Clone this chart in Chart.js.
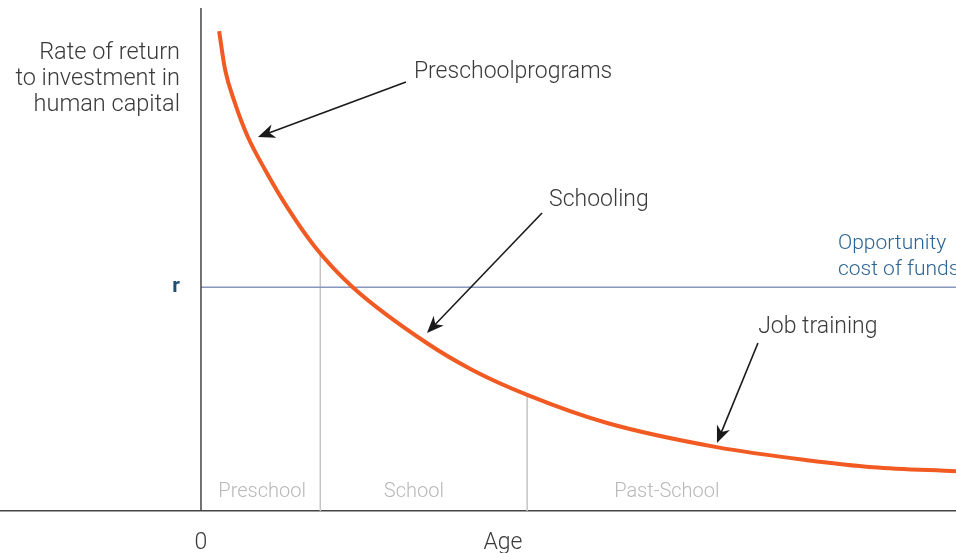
<!DOCTYPE html>
<html>
<head>
<meta charset="utf-8">
<script src="https://cdn.jsdelivr.net/npm/chart.js@4.4.1/dist/chart.umd.min.js"></script>
<style>
  body { margin: 0; background: #fff; }
  #wrap { width: 956px; height: 553px; }
</style>
</head>
<body>
<div id="wrap"><canvas id="myChart"></canvas></div>
<script>
// return curve (x = age units 0..100, y = rate 0..100)
var curveX = [2.4, 3.2, 4.5, 6.2, 8.5, 11.5, 15.1, 20.1, 29.9, 36.0, 43.2, 53.8, 68.3, 80.3, 89.0, 100];
var curveY = [95.4, 87.7, 81.1, 74.4, 67.8, 60.2, 52.5, 44.5, 33.4, 28.0, 23.1, 17.5, 12.7, 10.1, 8.7, 7.9];

var rValue = 44.5;             // opportunity cost of funds
var stageBounds = [15.8, 43.2]; // preschool | school | past-school
var stageTops = [51.3, 23.1];
var stageNames = ["Preschool", "School", "Past-School"];
var stageLabelX = [8.1, 28.2, 61.7];

var tickValues = [0, 40];
var tickLabels = ["0", "Age"];

var toPoints = function (xs, ys) {
  return xs.map(function (x, i) { return { x: x, y: ys[i] }; });
};

var FONT = "Roboto";
var TEXT = "#3a3a3a";

// arrows: [fromX, fromY, tipX, tipY], labels in data units
var arrows = [
  [27.15, 85.3, 7.55, 74.35],
  [45.17, 59.24, 29.93, 35.39],
  [73.77, 33.4, 68.34, 13.52]
];
var notes = [
  { text: "Preschoolprograms", x: 28.2, y: 87.7 },
  { text: "Schooling", x: 46.1, y: 62.2 },
  { text: "Job training", x: 73.8, y: 37.0 }
];

function drawArrow(ctx, x1, y1, x2, y2) {
  var a = Math.atan2(y2 - y1, x2 - x1);
  ctx.save();
  ctx.strokeStyle = "#1a1a1a";
  ctx.fillStyle = "#1a1a1a";
  ctx.lineWidth = 1.6;
  ctx.beginPath();
  ctx.moveTo(x1, y1);
  ctx.lineTo(x2 - 8 * Math.cos(a), y2 - 8 * Math.sin(a));
  ctx.stroke();
  ctx.translate(x2, y2);
  ctx.rotate(a);
  ctx.beginPath();
  ctx.moveTo(0, 0);
  ctx.lineTo(-17, -7);
  ctx.lineTo(-12, 0);
  ctx.lineTo(-17, 7);
  ctx.closePath();
  ctx.fill();
  ctx.restore();
}

var annotate = {
  id: "annotate",
  afterDatasetsDraw: function (chart) {
    var ctx = chart.ctx;
    var xs = chart.scales.x, ys = chart.scales.y;
    var px = function (v) { return xs.getPixelForValue(v); };
    var py = function (v) { return ys.getPixelForValue(v) + 2; };

    ctx.save();
    // y axis
    ctx.strokeStyle = "#444";
    ctx.lineWidth = 1.5;
    ctx.beginPath();
    ctx.moveTo(px(0), chart.chartArea.top);
    ctx.lineTo(px(0), chart.chartArea.bottom);
    ctx.stroke();

    ctx.textBaseline = "middle";
    // y axis title
    ctx.font = "300 23.5px " + FONT;
    ctx.fillStyle = TEXT;
    ctx.textAlign = "right";
    ["Rate of return", "to investment in", "human capital"].forEach(function (t, i) {
      ctx.fillText(t, px(0) - 21, py(91.65) + 1 + i * 26);
    });

    // r label
    ctx.font = "bold 21px " + FONT;
    ctx.fillStyle = "#1f4e79";
    ctx.textAlign = "center";
    ctx.fillText("r", px(0) - 25, py(rValue) - 2);

    // opportunity cost label
    ctx.font = "300 21px " + FONT;
    ctx.fillStyle = "#2b6494";
    ctx.textAlign = "left";
    ctx.fillText("Opportunity", px(84.37), py(rValue) - 45);
    ctx.fillText("cost of funds", px(84.37), py(rValue) - 19);

    // stage names
    ctx.font = "300 20px " + FONT;
    ctx.fillStyle = "#b8b8b8";
    ctx.textAlign = "center";
    stageNames.forEach(function (t, i) {
      ctx.fillText(t, px(stageLabelX[i]), py(4.2));
    });

    // notes + arrows
    ctx.font = "300 23px " + FONT;
    ctx.fillStyle = TEXT;
    ctx.textAlign = "left";
    notes.forEach(function (n) { ctx.fillText(n.text, px(n.x), py(n.y)); });
    arrows.forEach(function (a) {
      drawArrow(ctx, px(a[0]), py(a[1]) - 2, px(a[2]), py(a[3]) - 2);
    });
    ctx.restore();
  }
};

var datasets = [
  {
    data: toPoints(curveX, curveY),
    borderColor: "#f15a22",
    borderWidth: 4,
    pointRadius: 0,
    cubicInterpolationMode: "monotone",
    fill: false
  },
  {
    data: [{ x: 0, y: rValue }, { x: 100, y: rValue }],
    borderColor: "#8a96bd",
    borderWidth: 1.5,
    pointRadius: 0
  }
];
stageBounds.forEach(function (b, i) {
  datasets.push({
    data: [{ x: b, y: 0 }, { x: b, y: stageTops[i] }],
    borderColor: "#c4c4c4",
    borderWidth: 1.5,
    pointRadius: 0
  });
});

new Chart("myChart", {
  type: "line",
  data: { datasets: datasets },
  options: {
    responsive: true,
    maintainAspectRatio: false,
    animation: false,
    layout: { padding: { top: 8, left: 0, right: 0, bottom: 0 } },
    plugins: { legend: { display: false }, tooltip: { enabled: false } },
    scales: {
      x: {
        type: "linear",
        min: -26.62,
        max: 100,
        grid: { display: false },
        border: { display: true, color: "#444", width: 1.5 },
        afterBuildTicks: function (scale) {
          scale.ticks = tickValues.map(function (v) { return { value: v }; });
        },
        afterFit: function (scale) { scale.height = 42; },
        ticks: {
          padding: 10,
          color: TEXT,
          font: { family: FONT, size: 23, weight: 300 },
          maxRotation: 0,
          autoSkip: false,
          callback: function (v) { return tickLabels[tickValues.indexOf(v)]; }
        }
      },
      y: {
        min: 0,
        max: 100,
        display: false
      }
    }
  },
  plugins: [annotate]
});
</script>
</body>
</html>
